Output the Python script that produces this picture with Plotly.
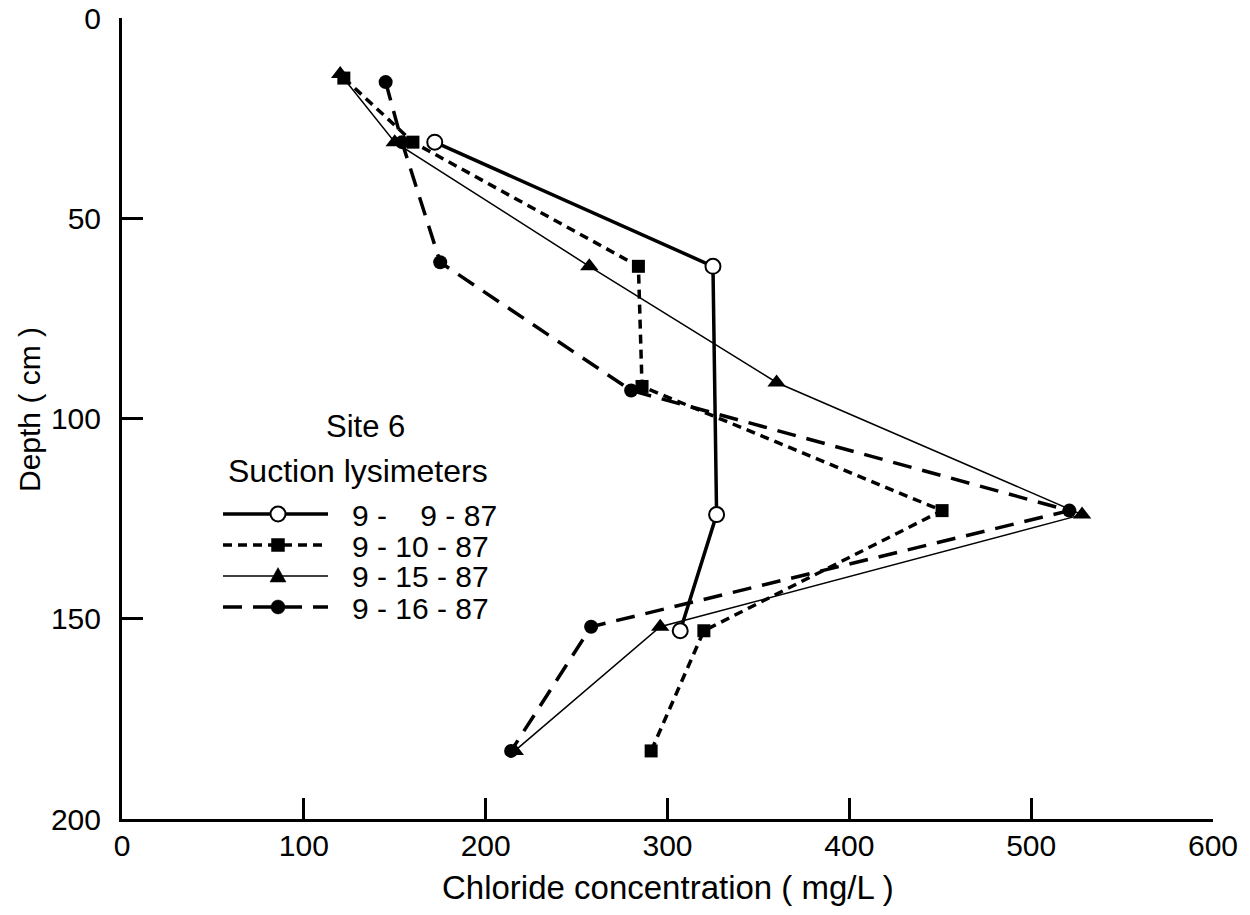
import plotly.graph_objects as go

# Series 9-9-87
d1_x = [172, 325, 327, 307]
d1_y = [31, 62, 124, 153]
# Series 9-10-87
d2_x = [122, 160, 284, 286, 451, 320, 291]
d2_y = [15, 31, 62, 92, 123, 153, 183]
# Series 9-15-87
d3_x = [120, 150, 257, 360, 528, 296, 216]
d3_y = [14, 31, 62, 91, 124, 152, 183]
# Series 9-16-87
d4_x = [145, 154, 175, 280, 521, 258, 214]
d4_y = [16, 31, 61, 93, 123, 152, 183]

names = ["9 -\u00a0\u00a0\u00a0 9 - 87", "9 - 10 - 87", "9 - 15 - 87", "9 - 16 - 87"]
legend_title = ["Site 6", "Suction lysimeters"]
x_title = "Chloride concentration ( mg/L )"
y_title = "Depth ( cm )"

x_ticks = [0, 100, 200, 300, 400, 500, 600]
y_ticks = [0, 50, 100, 150, 200]

# ---- styles ----
W, H = 1250, 915
ML, MR, MT, MB = 122, 37, 18, 96
PW, PH = W - ML - MR, H - MT - MB
font_family = "Liberation Sans, Arial, Helvetica, sans-serif"

styles = [
    dict(line=dict(color="black", width=3.5),
         marker=dict(symbol="circle", size=15, color="white", line=dict(color="black", width=2))),
    dict(line=dict(color="black", width=3.5, dash="9px,6px"),
         marker=dict(symbol="square", size=13, color="black")),
    dict(line=dict(color="black", width=1.5),
         marker=dict(symbol="triangle-up", size=16, color="black")),
    dict(line=dict(color="black", width=3.5, dash="19px,11px"),
         marker=dict(symbol="circle", size=14, color="black")),
]

series = [(d1_x, d1_y), (d2_x, d2_y), (d3_x, d3_y), (d4_x, d4_y)]

fig = go.Figure()
for (xs, ys), nm, st in zip(series, names, styles):
    fig.add_trace(go.Scatter(x=xs, y=ys, name=nm, mode="lines+markers",
                             line=st["line"], marker=st["marker"], showlegend=False))


# ---- custom legend (paper coordinates computed from pixel layout) ----
def px2x(px):
    return (px - ML) / PW


def px2y(py):
    return (H - MB - py) / PH


leg_line_x0, leg_line_x1, leg_mark_x, leg_text_x = 223, 328, 278, 350
leg_rows = [514, 545, 576, 607]

fig.add_annotation(x=px2x(365), y=px2y(426), xref="paper", yref="paper",
                   text=legend_title[0], showarrow=False, xanchor="center", yanchor="middle",
                   font=dict(size=31, family=font_family))
fig.add_annotation(x=px2x(358), y=px2y(471), xref="paper", yref="paper",
                   text=legend_title[1], showarrow=False, xanchor="center", yanchor="middle",
                   font=dict(size=32, family=font_family))

for i, (nm, st) in enumerate(zip(names, styles)):
    ry = leg_rows[i]
    ln = st["line"]
    fig.add_shape(type="line", xref="paper", yref="paper",
                  x0=px2x(leg_line_x0), x1=px2x(leg_line_x1), y0=px2y(ry), y1=px2y(ry),
                  line=dict(color=ln["color"], width=ln["width"], dash=ln.get("dash", "solid")))
    mk = st["marker"]
    s = mk["size"] / 2
    common = dict(xref="paper", yref="paper", xsizemode="pixel", ysizemode="pixel",
                  xanchor=px2x(leg_mark_x), yanchor=px2y(ry))
    if mk["symbol"] == "circle":
        lw = mk.get("line", {}).get("width", 0)
        fig.add_shape(type="circle", x0=-s, x1=s, y0=-s, y1=s, fillcolor=mk["color"],
                      line=dict(color="black", width=lw if lw else 0.5), **common)
    elif mk["symbol"] == "square":
        fig.add_shape(type="rect", x0=-s, x1=s, y0=-s, y1=s, fillcolor=mk["color"],
                      line=dict(color="black", width=0.5), **common)
    else:
        fig.add_shape(type="path", path=f"M{-s},{-s * 0.75} L{s},{-s * 0.75} L0,{s * 1.05} Z",
                      fillcolor=mk["color"], line=dict(color="black", width=0.5), **common)
    fig.add_annotation(x=px2x(leg_text_x), y=px2y(ry + 1), xref="paper", yref="paper",
                       text=nm, showarrow=False, xanchor="left", yanchor="middle",
                       font=dict(size=30, family=font_family))

# axis titles as annotations for precise placement
fig.add_annotation(x=0.5, y=px2y(887), xref="paper", yref="paper", text=x_title,
                   showarrow=False, xanchor="center", yanchor="middle",
                   font=dict(size=33, family=font_family))
fig.add_annotation(x=px2x(29), y=px2y(410), xref="paper", yref="paper", text=y_title,
                   showarrow=False, xanchor="center", yanchor="middle", textangle=-90,
                   font=dict(size=30, family=font_family))

fig.update_layout(
    width=W, height=H,
    margin=dict(l=ML, r=MR, t=MT, b=MB),
    paper_bgcolor="white", plot_bgcolor="white",
    font=dict(family=font_family, size=30, color="black"),
    showlegend=False,
    xaxis=dict(
        range=[0, 600], tickvals=x_ticks, ticks="inside", ticklen=21, tickwidth=2.5,
        tickcolor="black", showline=True, linecolor="black", linewidth=3,
        showgrid=False, zeroline=False, mirror=False, automargin=False,
        tickfont=dict(size=30), ticklabelstandoff=-2,
    ),
    yaxis=dict(
        range=[200, 0], tickvals=y_ticks, ticks="inside", ticklen=21, tickwidth=2.5,
        tickcolor="black", showline=True, linecolor="black", linewidth=3,
        showgrid=False, zeroline=False, mirror=False, automargin=False,
        tickfont=dict(size=30), ticklabelstandoff=12,
    ),
)

fig.write_html("out.html")
